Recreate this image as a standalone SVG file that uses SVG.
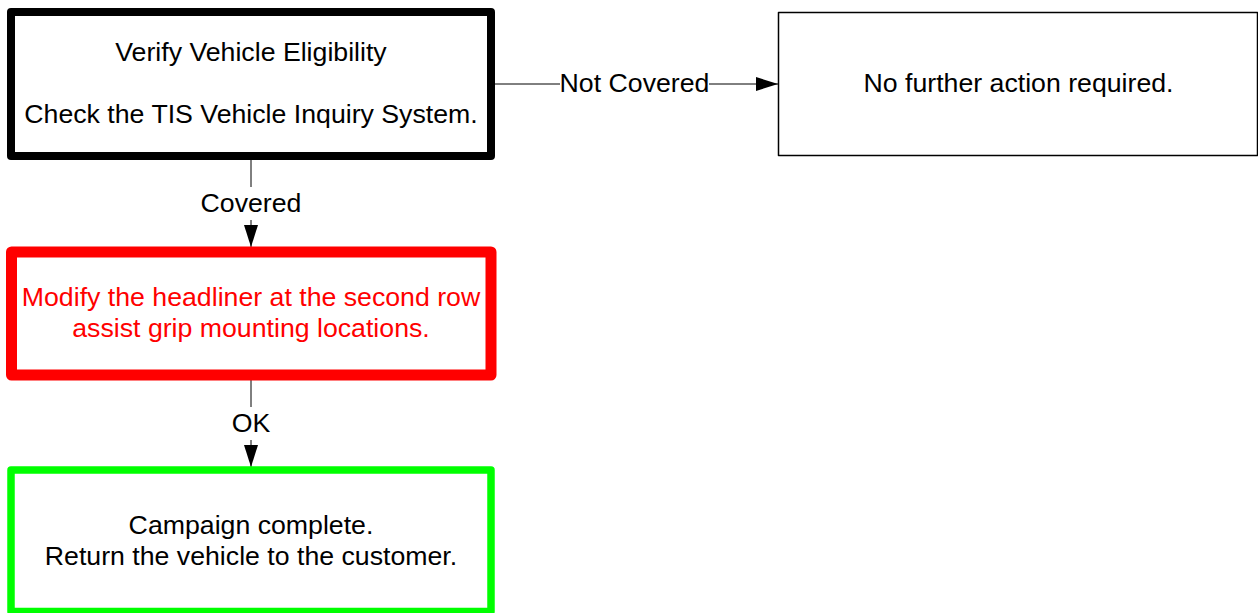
<svg xmlns="http://www.w3.org/2000/svg" width="1258" height="613" viewBox="0 0 1258 613">
  <style>
    text { font-family: "Liberation Sans", Arial, sans-serif; font-size: 26.7px; text-anchor: middle; fill: #000; }
    .box { fill: #fff; stroke-linejoin: round; }
    .conn { stroke: #000; stroke-width: 1; fill: none; }
    .red { fill: #ff0000; }
  </style>
  <defs>
    <marker id="arrow" viewBox="0 0 22 14" refX="22" refY="7" markerWidth="22" markerHeight="14" markerUnits="userSpaceOnUse" orient="auto">
      <path d="M0,0 L22,7 L0,14 Z" fill="#000"/>
    </marker>
  </defs>
  <rect width="1258" height="613" fill="#fff"/>

  <g id="connectors">
    <g id="edge-not-covered">
      <line class="conn" x1="495" y1="84" x2="560" y2="84"/>
      <line class="conn" x1="709" y1="84" x2="778" y2="84" marker-end="url(#arrow)"/>
      <text x="634.5" y="92">Not Covered</text>
    </g>
    <g id="edge-covered">
      <line class="conn" x1="251" y1="160" x2="251" y2="187"/>
      <line class="conn" x1="251" y1="220" x2="251" y2="247" marker-end="url(#arrow)"/>
      <text x="251" y="212">Covered</text>
    </g>
    <g id="edge-ok">
      <line class="conn" x1="251" y1="380" x2="251" y2="407"/>
      <line class="conn" x1="251" y1="440" x2="251" y2="467" marker-end="url(#arrow)"/>
      <text x="251" y="432">OK</text>
    </g>
  </g>

  <g id="node-verify">
    <rect class="box" x="11" y="12" width="480" height="144" stroke="#000" stroke-width="8"/>
    <text x="251" y="61">Verify Vehicle Eligibility</text>
    <text x="251" y="123">Check the TIS Vehicle Inquiry System.</text>
  </g>

  <g id="node-no-action">
    <rect class="box" x="778.5" y="12.5" width="479" height="143" stroke="#000" stroke-width="1.5"/>
    <text x="1018.5" y="92">No further action required.</text>
  </g>

  <g id="node-modify">
    <rect class="box" x="11.5" y="252" width="479.5" height="123" stroke="#ff0000" stroke-width="11"/>
    <text class="red" x="251" y="306">Modify the headliner at the second row</text>
    <text class="red" x="251" y="337">assist grip mounting locations.</text>
  </g>

  <g id="node-complete">
    <rect class="box" x="11" y="470" width="480" height="141.5" stroke="#00ff00" stroke-width="7.5"/>
    <text x="251" y="534">Campaign complete.</text>
    <text x="251" y="565">Return the vehicle to the customer.</text>
  </g>
</svg>
